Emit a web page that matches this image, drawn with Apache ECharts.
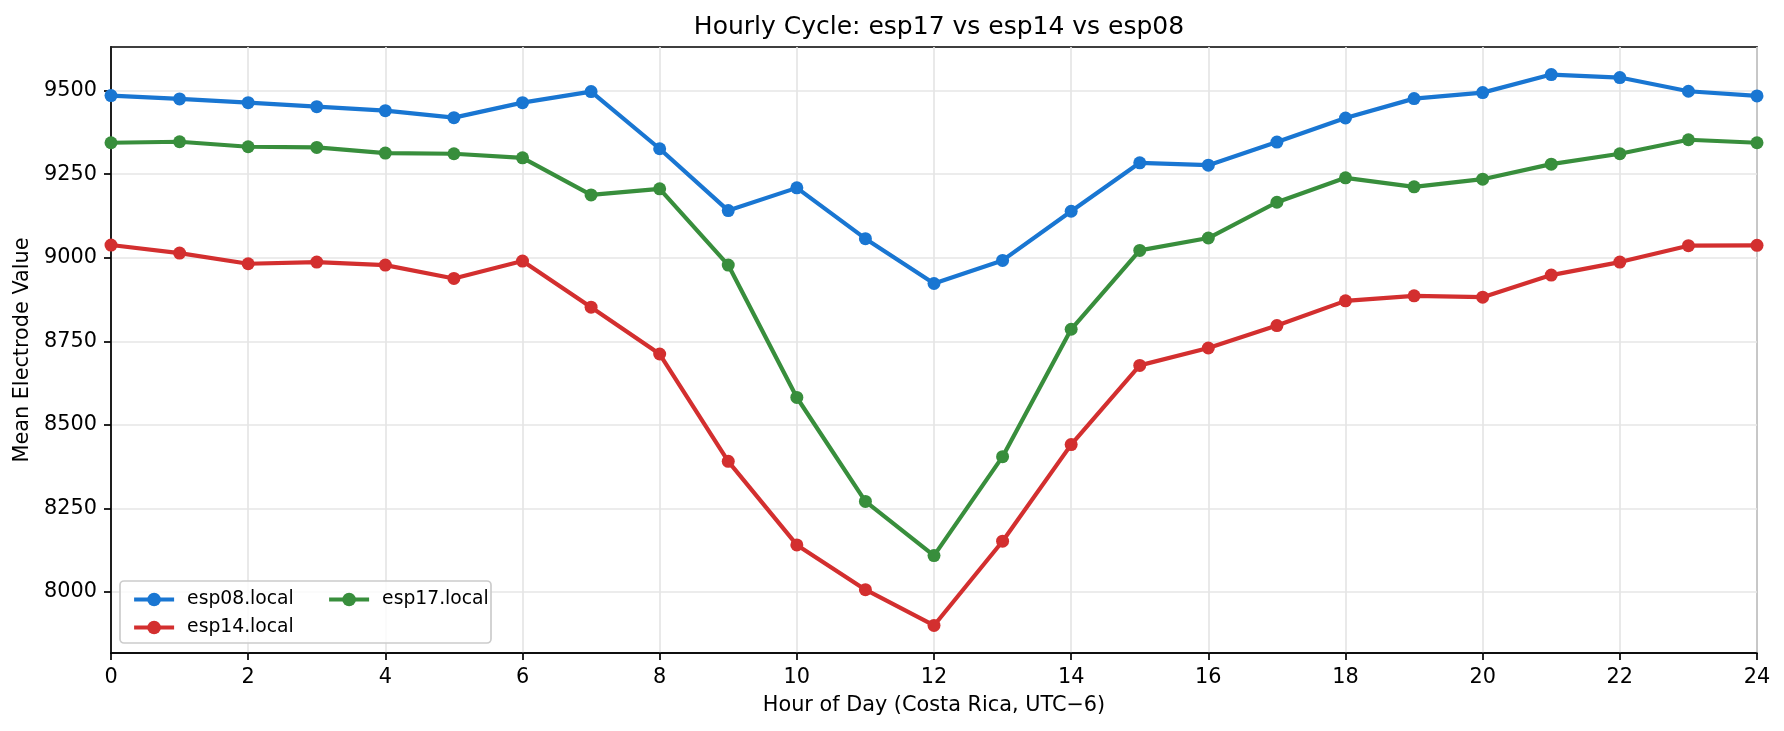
<!DOCTYPE html>
<html>
<head>
<meta charset="utf-8">
<script src="https://cdn.jsdelivr.net/npm/echarts@6/dist/echarts.min.js"></script>
<style>
html,body{margin:0;padding:0;background:#fff;}
#c{width:1784px;height:731px;}
</style>
</head>
<body>
<div id="c"></div>
<script>
const hours = [0,1,2,3,4,5,6,7,8,9,10,11,12,13,14,15,16,17,18,19,20,21,22,23,24];
const esp08 = [9485,9475,9464,9452,9440,9419,9464,9497,9326,9141,9209,9057,8923,8992,9139,9284,9277,9346,9418,9476,9494,9548,9539,9498,9484];
const esp14 = [9038,9014,8982,8987,8978,8938,8990,8852,8712,8391,8141,8007,7900,8152,8441,8678,8730,8797,8871,8886,8882,8948,8987,9036,9037];
const esp17 = [9344,9347,9332,9330,9313,9311,9299,9188,9206,8978,8582,8271,8109,8405,8786,9022,9059,9166,9239,9212,9235,9280,9311,9353,9344];
const xTicks = [0,2,4,6,8,10,12,14,16,18,20,22,24];
const yTicks = [8000,8250,8500,8750,9000,9250,9500];
const names = ['esp08.local','esp14.local','esp17.local'];
const colors = ['#1976D2','#D32F2F','#388E3C'];
const yMin = 7817.6, yMax = 9630.4;

const FONT = 'DejaVu Sans';
const chart = echarts.init(document.getElementById('c'), null, {renderer:'canvas'});

function mk(name, vals, color){
  return {
    name: name, type:'line',
    data: hours.map((h,i)=>[h, vals[i]]),
    symbol:'circle', symbolSize:13,
    lineStyle:{width:4.2, color:color},
    itemStyle:{color:color},
    emphasis:{disabled:true},
    animation:false
  };
}

const legendCommon = {
  orient:'vertical', itemWidth:40, itemHeight:17, itemGap:9,
  lineStyle:{width:4.2},
  textStyle:{fontFamily:FONT, fontSize:18.75, color:'#000', padding:[0,0,0,8]},
  z:5
};

chart.setOption({
  backgroundColor:'#fff',
  animation:false,
  title:{
    text:'Hourly Cycle: esp17 vs esp14 vs esp08',
    left:934, top:10, textAlign:'center',
    textStyle:{fontFamily:FONT, fontSize:25, fontWeight:'normal', color:'#000'}
  },
  grid:{left:111, right:27, top:47, bottom:78, show:true, borderColor:'#000', borderWidth:1.7, backgroundColor:'transparent'},
  xAxis:{
    type:'value', min:0, max:24, interval:2,
    name:'Hour of Day (Costa Rica, UTC\u22126)', nameLocation:'middle', nameGap:42,
    nameTextStyle:{fontFamily:FONT, fontSize:20.8, color:'#000'},
    axisLine:{onZero:false, lineStyle:{color:'#000', width:1.7}},
    axisTick:{show:true, length:7, lineStyle:{color:'#000', width:1.7}},
    axisLabel:{fontFamily:FONT, fontSize:20.8, color:'#000', margin:14},
    splitLine:{show:true, lineStyle:{color:'#e6e6e6', width:1.7}}
  },
  yAxis:{
    type:'value', min:yMin, max:yMax,
    name:'Mean Electrode Value', nameLocation:'middle', nameGap:68, nameRotate:90,
    nameTextStyle:{fontFamily:FONT, fontSize:20.8, color:'#000'},
    axisLine:{show:true, onZero:false, lineStyle:{color:'#000', width:1.7}},
    axisTick:{show:true, length:7, customValues:yTicks, lineStyle:{color:'#000', width:1.7}},
    axisLabel:{fontFamily:FONT, fontSize:20.8, color:'#000', margin:14, customValues:yTicks,
      formatter:(v)=>String(Math.round(v))},
    splitLine:{show:true, lineStyle:{color:'#e6e6e6', width:1.7}}
  },
  legend:[
    Object.assign({}, legendCommon, {data:[names[0], names[1]], left:127, top:585}),
    Object.assign({}, legendCommon, {data:[names[2]], left:322, top:585})
  ],
  graphic:[{
    type:'rect', z:4, silent:true,
    shape:{x:120, y:581, width:371, height:62, r:4},
    style:{fill:'rgba(255,255,255,0.8)', stroke:'#cccccc', lineWidth:1.7}
  }],
  series:[
    mk(names[0], esp08, colors[0]),
    mk(names[1], esp14, colors[1]),
    mk(names[2], esp17, colors[2])
  ]
});
</script>
</body>
</html>
